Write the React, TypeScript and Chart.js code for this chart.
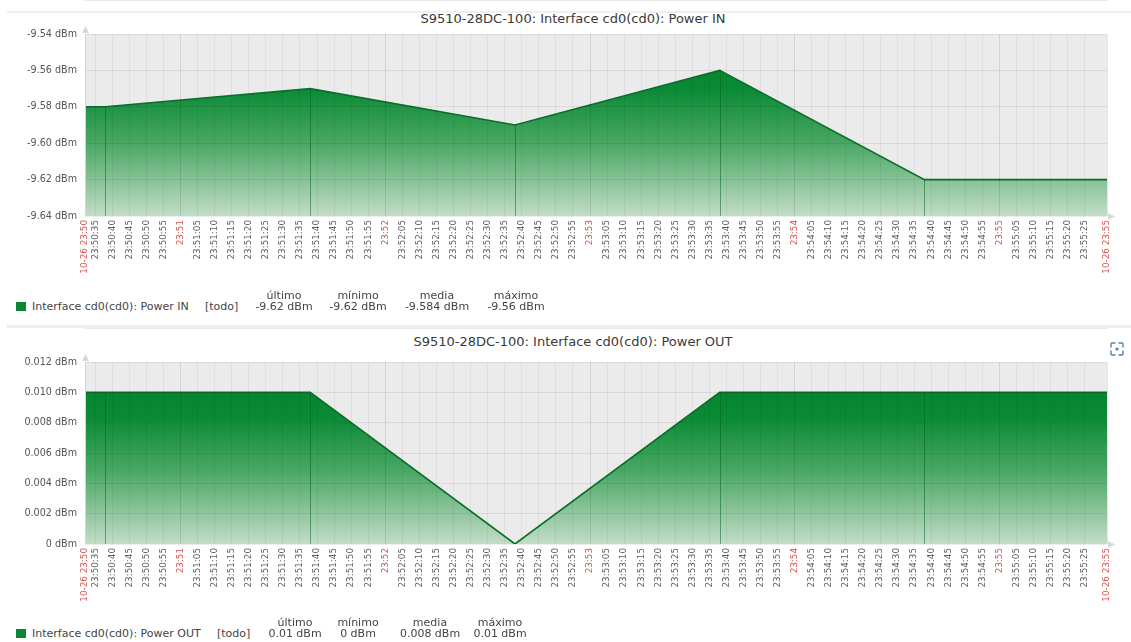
import React, { useEffect, useRef } from "react";
import { Chart, registerables } from "chart.js";

Chart.register(...registerables);

// time axis in seconds after 10-26 23:50:00
const RANGE_START = 32;
const RANGE_END = 331.5;
const sampleTimes = [38, 98, 158, 218, 278];
const powerIn = [-9.58, -9.57, -9.59, -9.56, -9.62];
const powerOut = [0.01, 0.01, 0, 0.01, 0.01];
const yTicksIn = [-9.64, -9.62, -9.6, -9.58, -9.56, -9.54];
const yTicksOut = [0, 0.002, 0.004, 0.006, 0.008, 0.01, 0.012];
const statHeaders = ["último", "mínimo", "media", "máximo"];
const tickSeconds: number[] = [RANGE_START];
for (let s = 35; s <= 325; s += 5) tickSeconds.push(s);
tickSeconds.push(RANGE_END);

const pad = (n: number) => (n < 10 ? "0" + n : "" + n);
function fmtTime(s: number): string {
  const m = 50 + Math.floor(s / 60);
  if (s === RANGE_START || s === RANGE_END) return "10-26 23:" + pad(m);
  const sec = Math.round(s % 60);
  return sec === 0 ? "23:" + pad(m) : "23:" + pad(m) + ":" + pad(sec);
}
const isRed = (s: number) =>
  s === RANGE_START || s === RANGE_END || Math.round(s % 60) === 0;

const fmtNum = (v: number) => String(Number(v.toFixed(3)));
function stats(vals: number[]) {
  const last = vals[vals.length - 1];
  const min = Math.min(...vals);
  const max = Math.max(...vals);
  const mean = vals.reduce((a, b) => a + b, 0) / vals.length;
  return [last, min, mean, max].map((v) => fmtNum(v) + " dBm");
}

const FONT = '"DejaVu Sans", sans-serif';

const bgPlugin = {
  id: "bgPlugin",
  beforeDraw(chart: any) {
    const a = chart.chartArea;
    const c = chart.ctx;
    c.save();
    c.fillStyle = "#ebebeb";
    c.fillRect(a.left, a.top, a.right - a.left, a.bottom - a.top);
    c.restore();
  },
};

const samplePlugin = {
  id: "samplePlugin",
  afterDatasetsDraw(chart: any, _args: any, opts: any) {
    const xs = chart.scales.x;
    const ys = chart.scales.y;
    const c = chart.ctx;
    const a = chart.chartArea;
    c.save();
    c.strokeStyle = "rgba(0,95,30,0.5)";
    c.lineWidth = 1;
    (opts.times as number[]).forEach((t, i) => {
      const x = Math.round(xs.getPixelForValue(t)) + 0.5;
      const y = ys.getPixelForValue(opts.values[i]);
      c.beginPath();
      c.moveTo(x, y);
      c.lineTo(x, a.bottom);
      c.stroke();
    });
    c.restore();
  },
};

const framePlugin = {
  id: "framePlugin",
  afterDraw(chart: any) {
    const a = chart.chartArea;
    const c = chart.ctx;
    c.save();
    c.strokeStyle = "#d4d4d4";
    c.lineWidth = 1;
    c.beginPath();
    c.moveTo(Math.round(a.left) + 0.5, a.top);
    c.lineTo(Math.round(a.left) + 0.5, a.bottom);
    c.stroke();
    c.fillStyle = "#d8d8d8";
    c.beginPath();
    c.moveTo(a.left - 3, a.top - 1);
    c.lineTo(a.left + 4, a.top - 1);
    c.lineTo(a.left + 0.5, a.top - 8);
    c.closePath();
    c.fill();
    c.beginPath();
    c.moveTo(a.right + 1, a.bottom - 3);
    c.lineTo(a.right + 1, a.bottom + 4);
    c.lineTo(a.right + 8, a.bottom + 0.5);
    c.closePath();
    c.fill();
    c.restore();
  },
};

function makeConfig(
  values: number[],
  yTicks: number[],
  yFmt: (v: number) => string
): any {
  const data = [
    { x: RANGE_START, y: values[0] },
    ...sampleTimes.map((t, i) => ({ x: t, y: values[i] })),
    { x: RANGE_END, y: values[values.length - 1] },
  ];
  return {
    type: "line",
    data: {
      datasets: [
        {
          data,
          borderColor: "#0a6f2a",
          borderWidth: 1.6,
          pointRadius: 0,
          tension: 0,
          fill: "start",
          backgroundColor: (ctx: any) => {
            const chart = ctx.chart;
            const a = chart.chartArea;
            if (!a) return "#1a8f3c";
            const g = chart.ctx.createLinearGradient(0, a.top, 0, a.bottom);
            g.addColorStop(0, "#007f28");
            g.addColorStop(0.3, "#0a8a35");
            g.addColorStop(0.6, "#4aa764");
            g.addColorStop(1, "#c3ddc8");
            return g;
          },
        },
      ],
    },
    options: {
      animation: false,
      responsive: false,
      layout: { padding: { top: 34, right: 24, left: 0, bottom: 0 } },
      plugins: {
        legend: { display: false },
        title: { display: false },
        tooltip: { enabled: false },
        samplePlugin: { times: sampleTimes, values },
      },
      scales: {
        x: {
          type: "linear",
          min: RANGE_START,
          max: RANGE_END,
          afterBuildTicks: (scale: any) => {
            scale.ticks = tickSeconds.map((v) => ({ value: v }));
          },
          afterFit: (scale: any) => {
            scale.height = 74;
          },
          ticks: {
            autoSkip: false,
            minRotation: 90,
            maxRotation: 90,
            padding: 4,
            font: { family: FONT, size: 8.8 },
            color: (ctx: any) =>
              ctx.tick && isRed(ctx.tick.value) ? "#d9534f" : "#606060",
            callback: (v: any) => fmtTime(Number(v)),
          },
          grid: {
            z: 1,
            drawTicks: false,
            color: (ctx: any) =>
              ctx.tick && isRed(ctx.tick.value)
                ? "rgba(0,0,0,0.10)"
                : "rgba(0,0,0,0.05)",
          },
          border: { color: "#d4d4d4" },
        },
        y: {
          min: yTicks[0],
          max: yTicks[yTicks.length - 1],
          afterBuildTicks: (scale: any) => {
            scale.ticks = yTicks.map((v) => ({ value: v }));
          },
          afterFit: (scale: any) => {
            scale.width = 85;
          },
          ticks: {
            padding: 8,
            font: { family: FONT, size: 9.6 },
            color: "#555",
            callback: (v: any) => yFmt(Number(v)),
          },
          grid: {
            z: 1,
            drawTicks: false,
            color: "rgba(0,0,0,0.07)",
          },
          border: { display: false },
        },
      },
    },
    plugins: [bgPlugin, samplePlugin, framePlugin],
  };
}

function ChartCanvas({
  values,
  yTicks,
  yFmt,
  top,
}: {
  values: number[];
  yTicks: number[];
  yFmt: (v: number) => string;
  top: number;
}) {
  const ref = useRef<HTMLCanvasElement>(null);
  useEffect(() => {
    if (!ref.current) return;
    const chart = new Chart(ref.current, makeConfig(values, yTicks, yFmt));
    return () => chart.destroy();
  }, []);
  return (
    <div style={{ position: "absolute", left: 0, top, width: 1131, height: 290 }}>
      <canvas ref={ref} width={1131} height={290} style={{ display: "block", width: 1131, height: 290 }} />
    </div>
  );
}

function Legend({
  top,
  name,
  todoX,
  values,
  centers,
}: {
  top: number;
  name: string;
  todoX: number;
  values: string[];
  centers: number[];
}) {
  const txt: any = {
    position: "absolute",
    whiteSpace: "nowrap",
    fontSize: 11,
    lineHeight: "13px",
    color: "#444",
  };
  return (
    <>
      <div
        style={{
          position: "absolute",
          left: 16,
          top: top + 2,
          width: 10,
          height: 9,
          background: "#0b8433",
        }}
      />
      <div style={{ ...txt, left: 32, top }}>{name}</div>
      <div style={{ ...txt, left: todoX, top }}>[todo]</div>
      {statHeaders.map((h, i) => (
        <div
          key={"h" + i}
          style={{ ...txt, left: centers[i], top: top - 11, transform: "translateX(-50%)" }}
        >
          {h}
        </div>
      ))}
      {values.map((v, i) => (
        <div
          key={"v" + i}
          style={{ ...txt, left: centers[i], top, transform: "translateX(-50%)" }}
        >
          {v}
        </div>
      ))}
    </>
  );
}

export default function App() {
  useEffect(() => {
    document.body.style.margin = "0";
  }, []);
  const titleStyle: any = {
    position: "absolute",
    left: 0,
    width: 1146,
    textAlign: "center",
    fontSize: 13,
    lineHeight: "16px",
    color: "#3a3a3a",
    whiteSpace: "nowrap",
  };
  return (
    <div
      style={{
        position: "relative",
        width: 1131,
        height: 642,
        background: "#fff",
        fontFamily: FONT,
        overflow: "hidden",
      }}
    >
      <div style={{ position: "absolute", left: 7, right: 0, top: 11, height: 2, background: "#efefef" }} />
      <div style={{ ...titleStyle, top: 11 }}>S9510-28DC-100: Interface cd0(cd0): Power IN</div>
      <ChartCanvas values={powerIn} yTicks={yTicksIn} yFmt={(v) => v.toFixed(2) + " dBm"} top={0} />
      <Legend
        top={300}
        name="Interface cd0(cd0): Power IN"
        todoX={205}
        values={stats(powerIn)}
        centers={[284, 358, 437, 516]}
      />
      <div style={{ position: "absolute", left: 7, right: 0, top: 325, height: 3, background: "#efefef" }} />
      <div style={{ ...titleStyle, top: 334 }}>S9510-28DC-100: Interface cd0(cd0): Power OUT</div>
      <svg
        width={14}
        height={14}
        viewBox="0 0 14 14"
        style={{ position: "absolute", left: 1110, top: 342 }}
      >
        <g fill="none" stroke="#5b7fa6" strokeWidth={1.4} strokeLinecap="round">
          <path d="M1 5 V2 a1 1 0 0 1 1 -1 H5" />
          <path d="M9 1 H12 a1 1 0 0 1 1 1 V5" />
          <path d="M13 9 V12 a1 1 0 0 1 -1 1 H9" />
          <path d="M5 13 H2 a1 1 0 0 1 -1 -1 V9" />
        </g>
        <circle cx={7} cy={7} r={1.6} fill="#5b7fa6" />
      </svg>
      <ChartCanvas
        values={powerOut}
        yTicks={yTicksOut}
        yFmt={(v) => (Math.abs(v) < 1e-9 ? "0 dBm" : v.toFixed(3) + " dBm")}
        top={328}
      />
      <Legend
        top={627}
        name="Interface cd0(cd0): Power OUT"
        todoX={217}
        values={stats(powerOut)}
        centers={[295, 358, 430, 500]}
      />
    </div>
  );
}
